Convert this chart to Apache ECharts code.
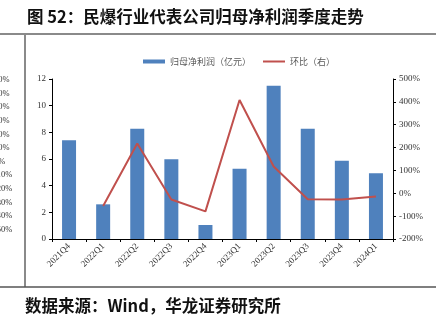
<!DOCTYPE html>
<html><head><meta charset="utf-8">
<script src="https://cdn.jsdelivr.net/npm/echarts@6/dist/echarts.min.js"></script>
<style>html,body{margin:0;padding:0;background:#fff}#c{width:448px;height:322px}</style>
</head><body><div id="c"></div>
<script>
const categories = ['2021Q4','2022Q1','2022Q2','2022Q3','2022Q4','2023Q1','2023Q2','2023Q3','2023Q4','2024Q1'];
const netProfit = [7.4, 2.6, 8.27, 5.98, 1.05, 5.27, 11.5, 8.27, 5.87, 4.93];
const qoq = [null, -56, 218, -27, -79, 408, 117, -26, -27, -14];
const leftTicks = {min: 0, max: 12, interval: 2};
const rightTicks = {min: -200, max: 500, interval: 100};
const sideLabels = ['60%','50%','40%','30%','20%','10%','0%','-10%','-20%','-30%','-40%','-50%'];

const chart = echarts.init(document.getElementById('c'));
const serif = 'Liberation Serif';
const graphics = [
  {type:'text', left:27, top:8, style:{text:'图 52：民爆行业代表公司归母净利润季度走势', font:'bold 16.5px "Noto Sans CJK SC"', fill:'#111'}},
  {type:'line', shape:{x1:0,y1:34,x2:436,y2:34}, style:{stroke:'#8a8a8a', lineWidth:2}},
  {type:'line', shape:{x1:25,y1:34,x2:25,y2:287}, style:{stroke:'#8a8a8a', lineWidth:2}},
  {type:'line', shape:{x1:0,y1:287,x2:436,y2:287}, style:{stroke:'#555', lineWidth:1.5}},
  {type:'text', left:25, top:297, style:{text:'数据来源：Wind，华龙证券研究所', font:'bold 16.5px "Noto Sans CJK SC"', fill:'#111'}}
];
sideLabels.forEach((t,i)=>{
  graphics.push({type:'text', x:-6, y:80 + i*13.6, style:{text:t, font:'8.5px "Liberation Serif"', fill:'#333', verticalAlign:'middle', align:'left'}});
});

chart.setOption({
  animation:false,
  textStyle:{fontFamily:serif},
  grid:{left:52, right:55, top:79, bottom:83},
  legend:[
    {data:[{name:'归母净利润（亿元）', icon:'rect'}], left:138, top:52, itemWidth:22, itemHeight:4, itemGap:5,
     textStyle:{fontSize:9, color:'#595959', fontFamily:'Noto Sans CJK SC'}},
    {data:[{name:'环比（右）', icon:'rect'}], left:258, top:52, itemWidth:22, itemHeight:2, itemGap:5,
     textStyle:{fontSize:9, color:'#595959', fontFamily:'Noto Sans CJK SC'}}
  ],
  xAxis:{type:'category', data:categories, boundaryGap:true,
    axisLine:{lineStyle:{color:'#000', width:1}},
    axisTick:{show:true, inside:false, length:3, lineStyle:{color:'#000'}},
    axisLabel:{rotate:45, fontSize:9, color:'#333', fontFamily:serif, margin:6, interval:0}},
  yAxis:[
    {type:'value', min:leftTicks.min, max:leftTicks.max, interval:leftTicks.interval, splitLine:{show:false},
     axisLine:{show:true, lineStyle:{color:'#000'}}, axisTick:{show:true, length:3, lineStyle:{color:'#000'}},
     axisLabel:{fontSize:9, color:'#333', fontFamily:serif, margin:6}},
    {type:'value', min:rightTicks.min, max:rightTicks.max, interval:rightTicks.interval, splitLine:{show:false},
     axisLine:{show:true, lineStyle:{color:'#000'}}, axisTick:{show:true, length:3, lineStyle:{color:'#000'}},
     axisLabel:{fontSize:9, color:'#333', fontFamily:serif, margin:6, formatter:'{value}%'}}
  ],
  graphic:graphics,
  series:[
    {name:'归母净利润（亿元）', type:'bar', data:netProfit, barWidth:14, itemStyle:{color:'#4F81BD'}, yAxisIndex:0},
    {name:'环比（右）', type:'line', data:qoq, yAxisIndex:1, showSymbol:false, symbol:'none',
     lineStyle:{color:'#C0504D', width:2}, itemStyle:{color:'#C0504D'}, connectNulls:false}
  ]
});
</script></body></html>
